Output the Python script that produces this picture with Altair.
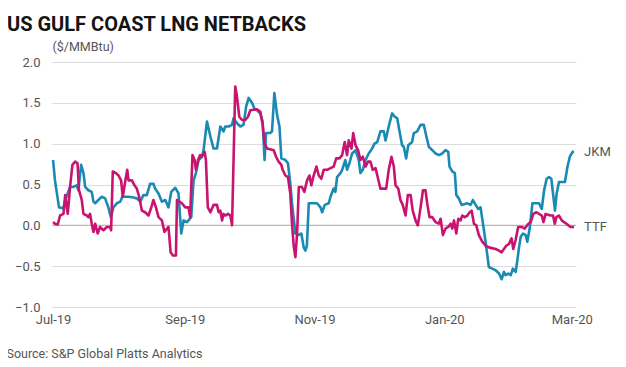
import altair as alt
import pandas as pd

# Day offsets from 2019-07-01 and values ($/MMBtu)
jkm_days = [0, 0.9, 2.8, 4.9, 5.7, 8.0, 9.6, 11.1, 11.9, 13.2, 14.3, 15.1, 16.6, 18.2, 19.0, 19.8,
            21.3, 22.9, 24.5, 26.0, 27.2, 28.4, 30.0, 31.6, 32.6, 35.5, 37.8, 39.4, 41.0, 42.5,
            44.1, 45.7, 47.2, 48.0, 49.6, 51.2, 52.8, 54.3, 55.6, 57.5, 59.0, 60.3, 61.4, 63.0,
            65.0, 66.1, 67.2, 68.5, 70.0, 70.8, 72.4, 74.0, 75.5, 77.1, 78.7, 80.2, 81.0, 82.6,
            84.2, 84.9, 86.5, 88.1, 89.6, 90.8, 92.0, 93.6, 94.7, 95.9, 97.5, 98.6, 99.5, 100.2,
            102.2, 103.0, 104.1, 105.4, 106.5, 107.4, 109.3, 110.5, 111.6, 112.4, 114.0, 115.3,
            116.8, 117.9, 118.7, 119.4, 120.3, 124.2, 125.8, 126.6, 127.8, 129.7, 130.5, 132.0,
            132.8, 133.6, 135.2, 136.0, 137.5, 138.3, 139.4, 140.7, 142.3, 143.8, 144.6, 145.7,
            147.0, 148.5, 150.1, 151.2, 152.5, 154.0, 155.6, 156.4, 157.9, 159.5, 160.8, 161.9,
            163.0, 164.2, 165.0, 166.1, 167.1, 168.9, 169.7, 171.3, 172.9, 174.4, 175.6, 176.8,
            178.4, 179.9, 181.5, 183.1, 184.6, 185.9, 186.5, 187.8, 189.0, 189.7, 190.9, 192.2,
            194.9, 196.4, 197.5, 198.8, 200.0, 201.1, 202.7, 203.8, 205.0, 206.6, 208.2, 209.8,
            211.0, 212.1, 212.9, 214.2, 215.3, 216.3, 217.6, 218.4, 219.2, 220.0, 221.1, 222.3,
            223.1, 224.2, 225.5, 228.6, 229.9, 231.0, 232.2, 233.3, 234.4, 235.2, 236.1, 236.9,
            238.0, 240.8, 242.0, 243.1, 244.4, 245.1]
jkm_vals = [0.80, 0.55, 0.22, 0.21, 0.31, 0.47, 0.47, 0.49, 0.43, 0.74, 0.64, 0.47, 0.43, 0.41, 0.29, 0.27,
            0.31, 0.35, 0.33, 0.22, 0.10, 0.22, 0.27, 0.29, 0.35, 0.35, 0.34, 0.33, 0.29, 0.37,
            0.37, 0.51, 0.51, 0.45, 0.39, 0.29, 0.31, 0.22, 0.41, 0.46, 0.39, -0.10, 0.06, 0.04,
            0.10, 0.55, 0.64, 0.80, 0.84, 0.92, 1.27, 1.09, 0.94, 0.94, 1.21, 1.15, 1.21, 1.21,
            1.23, 1.31, 1.25, 1.21, 1.23, 1.45, 1.56, 1.50, 1.43, 1.41, 1.37, 1.27, 0.80, 1.13,
            1.13, 1.15, 1.62, 1.35, 1.21, 0.82, 0.80, 0.76, 0.51, 0.27, -0.10, -0.12,
            -0.10, -0.27, -0.31, -0.25, 0.27, 0.27, 0.22, 0.16, 0.25, 0.27, 0.35, 0.45,
            0.41, 0.59, 0.64, 0.68, 0.80, 0.68, 0.76, 0.88, 0.92, 0.80, 0.64, 0.68,
            0.80, 0.88, 0.94, 1.00, 1.02, 1.15, 1.15, 1.04, 1.21, 1.37, 1.33, 1.31,
            1.15, 0.98, 0.96, 0.82, 0.98, 1.02, 1.13, 1.15, 1.23, 1.23, 1.09, 0.96,
            0.92, 0.88, 0.86, 0.88, 0.92, 0.90, 0.72, 0.66, 0.64, 0.37, 0.33, 0.25,
            0.27, 0.25, 0.31, 0.25, 0.20, 0.22, -0.06, -0.27, -0.51, -0.53, -0.55, -0.59,
            -0.66, -0.57, -0.61, -0.59, -0.61, -0.53, -0.57, -0.43, -0.27, -0.14, -0.10, -0.12,
            -0.20, -0.04, 0.27, 0.27, 0.20, 0.43, 0.57, 0.59, 0.57, 0.39, 0.18, 0.39,
            0.53, 0.53, 0.72, 0.84, 0.90, 0.90]

ttf_days = [0, 0.9, 2.2, 3.3, 4.9, 5.7, 6.9, 8.0, 9.1, 10.4, 11.5, 12.2, 13.5, 14.3, 15.9, 16.6,
            17.4, 18.2, 19.0, 19.8, 21.0, 22.1, 23.7, 25.3, 26.8, 27.3, 28.1, 29.5, 30.8, 32.0,
            32.8, 33.9, 34.9, 35.5, 37.1, 38.3, 39.4, 40.5, 41.8, 43.3, 44.9, 46.2, 47.2, 48.4,
            49.6, 51.2, 52.4, 53.6, 54.3, 55.3, 56.4, 57.8, 58.3, 60.6, 62.2, 63.7, 64.5, 65.0,
            65.6, 66.6, 67.2, 68.2, 69.2, 70.0, 71.3, 71.9, 72.8, 74.0, 75.5, 77.1, 77.9, 78.7,
            79.5, 80.2, 81.0, 82.3, 83.4, 84.2, 85.7, 86.5, 87.6, 88.9, 90.4, 91.7, 92.8, 95.9,
            97.5, 98.6, 99.5, 100.7, 103.8, 104.9, 106.1, 107.4, 108.0, 109.3, 110.5, 111.6,
            112.4, 113.2, 114.0, 114.8, 115.6, 117.1, 118.2, 119.5, 120.6, 121.5, 122.6, 123.9,
            125.0, 126.2, 127.3, 128.9, 130.5, 132.0, 133.2, 134.7, 136.0, 137.2, 138.3, 139.1,
            140.4, 141.2, 142.3, 143.5, 144.6, 145.7, 147.0, 148.2, 149.3, 150.4, 151.7, 152.9,
            154.0, 156.7, 157.9, 159.2, 160.3, 161.1, 162.4, 163.4, 164.5, 165.8, 166.9, 168.2,
            169.2, 170.5, 171.6, 172.9, 174.0, 175.2, 176.0, 177.1, 178.4, 179.9, 181.5, 182.3,
            183.4, 184.6, 185.9, 187.0, 187.8, 188.6, 189.7, 190.6, 191.7, 192.5, 193.7, 194.9,
            196.0, 196.9, 198.0, 199.1, 200.3, 201.9, 203.5, 205.0, 208.2, 209.8, 211.0, 212.1,
            213.2, 214.4, 215.7, 216.5, 217.6, 218.8, 220.4, 221.9, 223.6, 224.7, 225.9, 227.4,
            229.9, 230.7, 231.7, 234.1, 235.2, 236.0, 236.8, 238.0, 239.3, 240.4, 241.5, 242.4,
            243.5, 245.1]
ttf_vals = [0.04, 0.02, 0.01, 0.12, 0.14, 0.37, 0.14, 0.47, 0.74, 0.78, 0.76, 0.43, 0.31, 0.14, 0.12, 0.10,
            0.14, 0.02, -0.08, 0.02, -0.10, -0.02, -0.06, -0.02, -0.02, -0.06, 0.66, 0.64, 0.61, 0.55,
            0.35, 0.53, 0.68, 0.55, 0.55, 0.49, 0.45, 0.35, 0.18, 0.16, 0.12, 0.22, 0.31, 0.22,
            0.10, 0.06, -0.08, -0.04, -0.02, -0.33, -0.37, -0.37, 0.31, 0.27, 0.22, 0.22, 0.10, 0.47,
            0.86, 0.80, 0.68, 0.80, 0.86, 0.84, 0.90, 0.80, 0.22, 0.16, 0.25, 0.25, 0.16, 0.18,
            0.06, 0.14, 0.12, 0.14, 0.12, 0.00, 1.70, 1.58, 1.33, 1.29, 1.29, 1.33, 1.41, 1.42,
            1.39, 1.23, 1.00, 0.94, 0.92, 0.84, 0.78, 0.74, 0.68, 0.61, 0.59, 0.39,
            0.02, -0.25, -0.39, -0.10, 0.47, 0.47, 0.41, 0.55, 0.61, 0.49, 0.61, 0.72,
            0.61, 0.57, 0.68, 0.68, 0.70, 0.72, 0.82, 0.82, 0.86, 1.02, 0.86, 1.04,
            0.94, 1.13, 0.98, 0.92, 0.80, 0.84, 0.72, 0.78, 0.78, 0.68, 0.70, 0.57,
            0.45, 0.45, 0.68, 0.84, 0.72, 0.49, 0.45, 0.31, 0.25, 0.12, 0.37, 0.37,
            0.18, 0.06, 0.00, 0.22, 0.43, 0.43, 0.27, 0.10, 0.10, 0.04, 0.02, 0.08,
            -0.12, -0.04, -0.02, 0.02, -0.04, 0.06, -0.10, 0.08, 0.06, 0.12, 0.10, 0.12,
            0.16, 0.18, 0.02, 0.00, -0.12, -0.20, -0.25, -0.27, -0.29, -0.31, -0.33, -0.29,
            -0.25, -0.23, -0.16, -0.29, -0.18, -0.02, -0.02, -0.04, 0.02, 0.04, 0.14, 0.16,
            0.12, 0.04, 0.14, 0.12, 0.12, 0.02, 0.10, 0.12, 0.06, 0.04, 0.02, 0.00,
            -0.02, -0.02]

series_names = ["JKM", "TTF"]
series_colors = ["#1a8ab4", "#c8136f"]
y_ticks = [-1.0, -0.5, 0.0, 0.5, 1.0, 1.5, 2.0]
x_ticks = ["2019-07-01", "2019-09-01", "2019-11-01", "2020-01-01", "2020-03-01"]

start = pd.Timestamp("2019-07-01")


def make(days, vals, name):
    return pd.DataFrame({
        "date": start + pd.to_timedelta(days, unit="D"),
        "value": vals,
        "series": name,
    })


df = pd.concat([make(jkm_days, jkm_vals, "JKM"), make(ttf_days, ttf_vals, "TTF")], ignore_index=True)
last = df.sort_values("date").groupby("series").tail(1)

FONT = "Roboto"
GRAY = "#555555"

x_scale = alt.Scale(domain=["2019-06-30T12:00:00", "2020-03-03T00:00:00"])
y_scale = alt.Scale(domain=[-1.0, 2.0], nice=False)
color = alt.Color("series:N", scale=alt.Scale(domain=series_names, range=series_colors), legend=None)

base = alt.Chart(df)

lines = base.mark_line(strokeWidth=2.6, strokeJoin="round").encode(
    x=alt.X(
        "date:T",
        scale=x_scale,
        axis=alt.Axis(
            values=[pd.Timestamp(v).isoformat() for v in x_ticks],
            format="%b-%y",
            grid=False,
            ticks=False,
            domain=False,
            labelFont=FONT,
            labelFontSize=13,
            labelColor=GRAY,
            labelPadding=6,
            title="Source: S&P Global Platts Analytics",
            titleFont=FONT,
            titleFontSize=12.5,
            titleFontWeight="normal",
            titleColor=GRAY,
            titleAnchor="start",
            titleAlign="left",
            titleBaseline="alphabetic",
            titleX=-46,
            titleY=50,
        ),
    ),
    y=alt.Y(
        "value:Q",
        scale=y_scale,
        axis=alt.Axis(
            values=y_ticks,
            format=".1f",
            grid=True,
            gridColor="#dcdcdc",
            gridWidth=1,
            ticks=False,
            domain=False,
            labelFont=FONT,
            labelFontSize=13,
            labelColor=GRAY,
            labelPadding=12,
            title="($/MMBtu)",
            titleFont=FONT,
            titleFontSize=12.5,
            titleFontWeight="normal",
            titleColor=GRAY,
            titleAngle=0,
            titleAlign="left",
            titleBaseline="alphabetic",
            titleX=0,
            titleY=-12,
        ),
    ),
    color=color,
    order=alt.Order("date:T"),
)

zero = alt.Chart(pd.DataFrame({"v": [0.0]})).mark_rule(color="#b8b8b8", strokeWidth=1.2).encode(
    y=alt.Y("v:Q", scale=y_scale)
)

labels = alt.Chart(last).mark_text(
    align="left", baseline="middle", dx=10, font=FONT, fontSize=13, color=GRAY
).encode(
    x=alt.X("date:T", scale=x_scale),
    y=alt.Y("value:Q", scale=y_scale),
    text="series:N",
)

chart = (
    alt.layer(zero, lines, labels)
    .properties(
        width=524,
        height=245,
        autosize=alt.AutoSizeParams(type="none"),
        padding={"left": 44, "top": 54, "right": 42, "bottom": 52},
        title=alt.TitleParams(
            "US GULF COAST LNG NETBACKS",
            anchor="start",
            frame="group",
            font=FONT,
            fontSize=20,
            fontWeight="bold",
            color="#141414",
            dx=-45,
            offset=5,
        ),
    )
    .configure_view(stroke=None)
)

chart.save("out.html", embed_options={"renderer": "svg", "actions": False})
